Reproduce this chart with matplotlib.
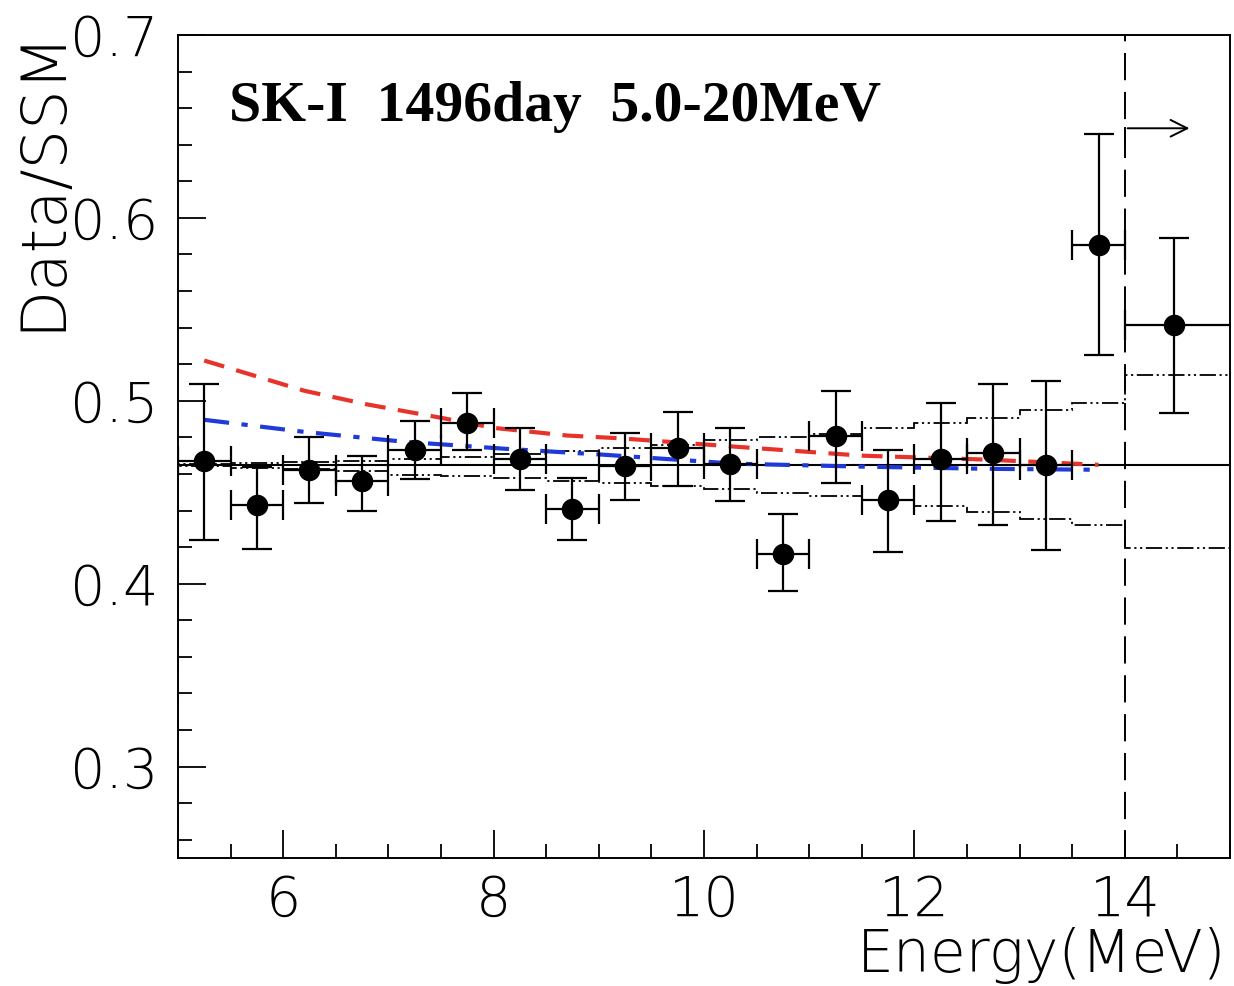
import matplotlib
matplotlib.use("Agg")
import matplotlib.pyplot as plt
from matplotlib.ticker import MultipleLocator

# energy bins (MeV) and Data/SSM values with stat errors
bin_lo = [5.0, 5.5, 6.0, 6.5, 7.0, 7.5, 8.0, 8.5, 9.0, 9.5, 10.0, 10.5, 11.0, 11.5, 12.0, 12.5, 13.0, 13.5]
data_y = [0.467, 0.443, 0.462, 0.456, 0.473, 0.488, 0.468, 0.441, 0.4645, 0.474, 0.4655,
          0.416, 0.481, 0.4455, 0.468, 0.4715, 0.465, 0.585]
err_hi = [0.509, 0.464, 0.480, 0.470, 0.489, 0.504, 0.485, 0.458, 0.4825, 0.494, 0.485,
          0.438, 0.5055, 0.473, 0.499, 0.509, 0.511, 0.646]
err_lo = [0.424, 0.419, 0.444, 0.440, 0.457, 0.473, 0.451, 0.424, 0.446, 0.4535, 0.445,
          0.396, 0.455, 0.4175, 0.4345, 0.432, 0.4185, 0.525]

# last wide bin 14-20 MeV
last_x = 14.47
last_y = 0.5415
last_hi = 0.589
last_lo = 0.4935

# systematic band (step histogram), edges 5..14 plus 14..20
band_edges = [5.0, 5.5, 6.0, 6.5, 7.0, 7.5, 8.0, 8.5, 9.0, 9.5, 10.0, 10.5, 11.0, 11.5,
              12.0, 12.5, 13.0, 13.5, 14.0, 20.0]
band_up = [0.4655, 0.466, 0.4665, 0.467, 0.4683, 0.469, 0.471, 0.4727, 0.474, 0.476,
           0.4787, 0.480, 0.482, 0.4853, 0.488, 0.4907, 0.495, 0.499, 0.514]
band_dn = [0.4645, 0.4635, 0.4625, 0.4617, 0.4596, 0.459, 0.458, 0.4563, 0.4552, 0.4536,
           0.452, 0.4497, 0.448, 0.446, 0.4426, 0.4393, 0.4355, 0.432, 0.4197]

flat_level = 0.465

# expectation curves
red_x = [5.25, 6.2, 6.8, 7.5, 8.0, 8.7, 9.2, 10.3, 11.5, 12.7, 13.75]
red_y = [0.522, 0.5055, 0.498, 0.4907, 0.4852, 0.481, 0.4795, 0.4749, 0.470, 0.4678, 0.465]
blue_x = [5.25, 6.2, 7.15, 8.1, 9.05, 10.3, 11.5, 12.7, 13.75]
blue_y = [0.4896, 0.483, 0.4776, 0.4738, 0.4705, 0.4656, 0.464, 0.4628, 0.4623]

tick_font = dict(family="DejaVu Sans", weight="light")

fig = plt.figure(figsize=(12.34, 9.86), dpi=100)
ax = fig.add_axes([0.1442, 0.1298, 0.8526, 0.8347])

# bands
dashdotdot = (0, (9, 2, 1.2, 2, 1.2, 2))
ax.stairs(band_up, band_edges, color="black", lw=1.3, linestyle=dashdotdot)
ax.stairs(band_dn, band_edges, color="black", lw=1.3, linestyle=dashdotdot)
ax.axhline(flat_level, color="black", lw=1.5)

# curves
ax.plot(red_x, red_y, color="#e8332a", lw=3, linestyle=(0, (5, 3)))
ax.plot(blue_x, blue_y, color="#1f3ad8", lw=3, linestyle=(0, (6, 3, 1.5, 3)))

# data
xc = [b + 0.25 for b in bin_lo]
yerr = [[y - l for y, l in zip(data_y, err_lo)], [h - y for y, h in zip(data_y, err_hi)]]
ax.errorbar(xc, data_y, xerr=0.25, yerr=yerr, fmt="o", color="black", ms=14.5,
            elinewidth=1.6, capsize=11, capthick=1.6)
ax.errorbar([last_x], [last_y], xerr=[[last_x - 14.0], [20.0 - last_x]],
            yerr=[[last_y - last_lo], [last_hi - last_y]], fmt="o", color="black", ms=14.5,
            elinewidth=1.6, capsize=11, capthick=1.6)

# threshold line and arrow
ax.axvline(14.0, color="black", lw=1.4, linestyle=(0, (14, 6)))
ax.plot([14.0, 14.0], [0.640, 0.649], color="black", lw=1.4)
ax.annotate("", xy=(14.64, 0.649), xytext=(14.0, 0.649),
            arrowprops=dict(arrowstyle="->", color="black", lw=1.4, mutation_scale=30))

ax.text(0.049, 0.912, "SK-I  1496day  5.0-20MeV", transform=ax.transAxes,
        family="Liberation Serif", weight="bold", fontsize=41.5, va="center", ha="left")

ax.set_xlim(5, 15)
ax.set_ylim(0.25, 0.7)
ax.xaxis.set_major_locator(MultipleLocator(2))
ax.xaxis.set_minor_locator(MultipleLocator(0.5))
ax.yaxis.set_major_locator(MultipleLocator(0.1))
ax.yaxis.set_minor_locator(MultipleLocator(0.02))
ax.tick_params(which="both", direction="in", top=False, right=False, width=1.3)
ax.tick_params(which="major", length=20)
ax.tick_params(which="minor", length=10)
ax.tick_params(axis="x", pad=11)
ax.tick_params(axis="y", pad=14)
ax.set_yticks([0.3, 0.4, 0.5, 0.6, 0.7])
ax.set_yticklabels(["0.3", "0.4", "0.5", "0.6", "0.7"])
for lab in ax.get_xticklabels() + ax.get_yticklabels():
    lab.set_fontsize(40)
    lab.set_fontfamily(tick_font["family"])
    lab.set_fontweight(tick_font["weight"])
for sp in ax.spines.values():
    sp.set_linewidth(1.4)

fig.text(0.034, 0.818, "Data/SSM", rotation=90, ha="center", va="center",
         fontsize=45, **tick_font)
fig.text(0.994, 0.031, "Energy(MeV)", ha="right", va="center", fontsize=42, **tick_font)

fig.savefig("out.png", dpi=100)
